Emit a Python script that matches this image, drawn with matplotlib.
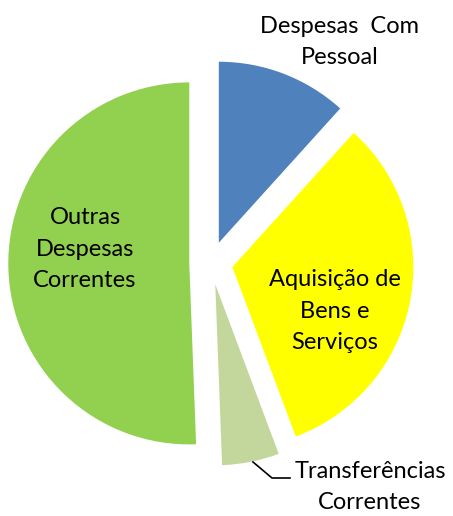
import matplotlib
matplotlib.use("Agg")
import matplotlib.pyplot as plt

categories = ["Despesas  Com\nPessoal", "Aquisição de\nBens e\nServiços",
              "Transferências\nCorrentes", "Outras\nDespesas\nCorrentes"]
values = [11.7, 32.6, 5.1, 50.6]
colors = ["#4F81BD", "#FFFF00", "#C3D69B", "#92D050"]

W, H = 453, 516
cx, cy = 211, 263   # pie centre in pixels (from top)
R = 181.0

fig = plt.figure(figsize=(W / 100, H / 100), dpi=100)
ax = fig.add_axes([0, 0, 1, 1])

ax.pie(values, colors=colors, startangle=90, counterclock=False,
       explode=[0.12] * len(values), radius=1.0, center=(0, 0),
       wedgeprops=dict(linewidth=0), frame=True)
ax.axis("off")
ax.set_xlim(-cx / R, (W - cx) / R)
ax.set_ylim(-(H - cy) / R, cy / R)


def px(x, y):
    return (x - cx) / R, (cy - y) / R


font = dict(family=["Lato", "DejaVu Sans"], fontsize=17, linespacing=1.62,
            ha="center", va="center", color="black")

ax.text(*px(340, 42), categories[0], **font)
ax.text(*px(335, 311), categories[1], **font)
ax.text(*px(370, 487), categories[2], **font)
ax.text(*px(85, 249), categories[3], **font)

# leader line for Transferências
xs, ys = zip(px(253, 462), px(272, 478), px(290, 478))
ax.plot(xs, ys, color="black", linewidth=1.2)

fig.savefig("out.png", dpi=100)
